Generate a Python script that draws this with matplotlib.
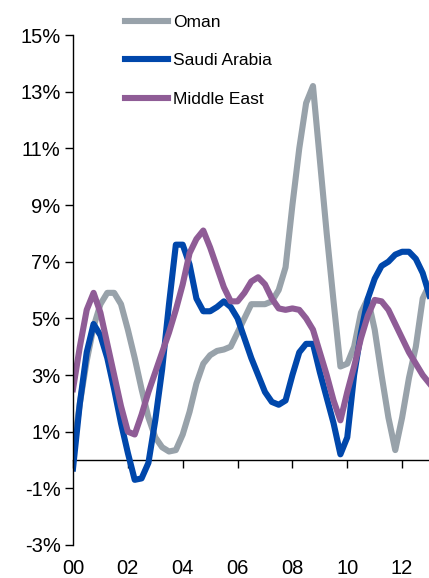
import numpy as np
import matplotlib
matplotlib.use("Agg")
import matplotlib.pyplot as plt

plt.rcParams['font.family'] = ['Liberation Sans', 'DejaVu Sans']

# quarterly points, years since 2000
t = np.arange(0, 13.01, 0.25)

oman = [0.3, 2.0, 3.5, 4.7, 5.5, 5.9, 5.9, 5.5, 4.6, 3.6, 2.5, 1.5, 0.8,
        0.45, 0.3, 0.35, 0.9, 1.7, 2.7, 3.4, 3.7, 3.85, 3.9, 4.0, 4.5, 5.0,
        5.5, 5.5, 5.5, 5.6, 6.0, 6.8, 9.0, 11.0, 12.6, 13.2, 10.6, 8.0, 5.6,
        3.3, 3.4, 4.0, 5.2, 5.7, 4.6, 3.0, 1.5, 0.35, 1.5, 2.9, 4.0, 5.7, 6.2]

saudi = [-0.3, 2.0, 3.8, 4.8, 4.4, 3.6, 2.5, 1.3, 0.25, -0.7, -0.65, -0.1,
         1.4, 3.2, 5.5, 7.6, 7.6, 6.9, 5.7, 5.25, 5.25, 5.4, 5.6, 5.4, 5.0,
         4.3, 3.6, 3.0, 2.4, 2.05, 1.95, 2.1, 3.0, 3.8, 4.1, 4.1, 3.1, 2.2,
         1.3, 0.2, 0.8, 3.0, 4.5, 5.7, 6.4, 6.85, 7.0, 7.25, 7.35, 7.35, 7.1,
         6.6, 5.8]

mideast = [2.5, 4.0, 5.3, 5.9, 5.2, 4.1, 3.0, 1.9, 1.0, 0.9, 1.6, 2.4, 3.1,
           3.8, 4.5, 5.3, 6.2, 7.3, 7.8, 8.1, 7.5, 6.8, 6.1, 5.6, 5.6, 5.9,
           6.3, 6.45, 6.2, 5.7, 5.35, 5.3, 5.35, 5.3, 5.0, 4.6, 3.8, 3.0, 2.1,
           1.4, 2.4, 3.3, 4.3, 5.1, 5.65, 5.6, 5.3, 4.8, 4.3, 3.8, 3.4, 3.0,
           2.7]

year_ticks = [0, 2, 4, 6, 8, 10, 12]
year_labels = ['00', '02', '04', '06', '08', '10', '12']
pct_ticks = [-3, -1, 1, 3, 5, 7, 9, 11, 13, 15]

fig = plt.figure(figsize=(4.29, 5.78), dpi=100)
ax = fig.add_axes([73 / 429, 0.0571, 1 - 73 / 429, 0.8823])

lw = 4.4
ax.plot(t, oman, color='#98a2aa', lw=lw, solid_joinstyle='round', label='Oman')
ax.plot(t, saudi, color='#0047ab', lw=lw, solid_joinstyle='round', label='Saudi Arabia')
ax.plot(t, mideast, color='#8f5c96', lw=lw, solid_joinstyle='round', label='Middle East')

ax.set_xlim(0, 12.98)
ax.set_ylim(-3, 15)
ax.set_yticks(pct_ticks)
ax.set_yticklabels([f'{v}%' for v in pct_ticks])
ax.set_xticks(year_ticks)
ax.set_xticklabels(year_labels)
ax.tick_params(axis='x', length=0, pad=10, labelsize=14.5)
ax.tick_params(axis='y', direction='out', length=6, width=1, labelsize=14.5, pad=3)

for side in ['top', 'right', 'bottom']:
    ax.spines[side].set_visible(False)
ax.spines['left'].set_linewidth(1)

# zero line with ticks
sec = ax.secondary_xaxis(3 / 18)
sec.set_xticks(year_ticks)
sec.set_xticklabels([])
sec.tick_params(direction='out', length=6, width=1)
sec.spines['bottom'].set_linewidth(1)

fig.legend(loc='upper left', bbox_to_anchor=(125 / 429, 1 - 15 / 578),
           frameon=False, fontsize=12.5, handlelength=2.5, handletextpad=0.25,
           labelspacing=1.33, borderpad=0, borderaxespad=0)

fig.savefig('out.png', dpi=100)
